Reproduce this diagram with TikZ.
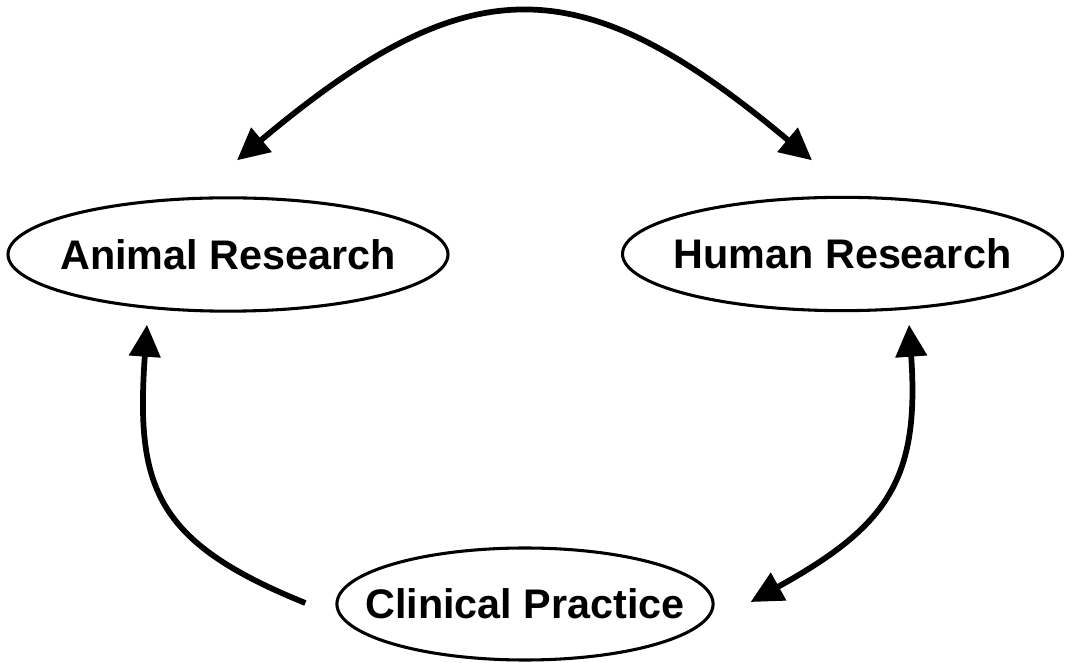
\documentclass[tikz,border=0pt]{standalone}
\usepackage{fontspec}
\setmainfont{Liberation Sans}
\usetikzlibrary{shapes.geometric,arrows.meta}

\begin{document}
\begin{tikzpicture}[x=0.75pt, y=0.75pt,
    >={Triangle[length=24pt,width=23pt]},
    bubble/.style={draw, ellipse, line width=2.3pt, inner xsep=-20pt, inner ysep=0pt,
      minimum width=330pt, minimum height=85pt,
      font=\fontsize{31}{37}\selectfont\bfseries},
    flow/.style={line width=4.3pt}]
	\useasboundingbox (0,0) rectangle (1070,663);

	% the three fields
	\node[bubble] (animal) at (228,408.5) {Animal Research};
	\node[bubble] (human) at (842.5,409) {Human Research};
	\node[bubble, minimum width=282pt, minimum height=84pt] (clinic) at (525,59) {Clinical Practice};

	% links between them
	\draw[flow, <->] ([shift={(9,36)}]animal.north) to[out=40, in=140, looseness=1.35] ([shift={(-30.5,35.5)}]human.north);
	\draw[flow, ->] ([shift={(-30,1)}]clinic.west) to[out=158, in=266, looseness=1.3] ([shift={(-81,-12)}]animal.south);
	\draw[flow, <->] ([shift={(66.5,-12.5)}]human.south) to[out=-86, in=29, looseness=1.25] ([shift={(36,2)}]clinic.east);
\end{tikzpicture}
\end{document}
